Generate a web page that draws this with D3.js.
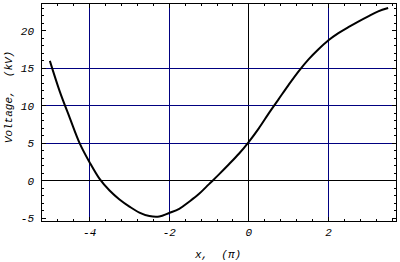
<!DOCTYPE html>
<html>
<head>
<meta charset="utf-8">
<script src="https://cdn.jsdelivr.net/npm/d3@7"></script>
<style>
  html, body { margin: 0; padding: 0; background: #fff; }
  svg { display: block; }
  text { font-family: "Liberation Mono", "DejaVu Sans Mono", monospace; font-style: italic; fill: #000; }
</style>
</head>
<body>
<svg id="chart" width="400" height="262"></svg>
<script>
// ---- data ----
const xValues = [-5.0, -4.75, -4.5, -4.25, -4.0, -3.75, -3.5, -3.25, -3.0, -2.75, -2.5, -2.25, -2.0, -1.75, -1.5, -1.25, -1.0, -0.75, -0.5, -0.25, 0.0, 0.25, 0.5, 0.75, 1.0, 1.25, 1.5, 1.75, 2.0, 2.25, 2.5, 2.75, 3.0, 3.25, 3.5];
const voltage = [16.0, 11.9, 8.4, 5.0, 2.45, 0.25, -1.3, -2.5, -3.45, -4.25, -4.72, -4.78, -4.3, -3.75, -2.8, -1.75, -0.45, 0.85, 2.2, 3.6, 5.2, 7.0, 9.0, 10.9, 12.8, 14.6, 16.2, 17.55, 18.75, 19.7, 20.5, 21.25, 21.95, 22.6, 23.05];
const xMajorTicks = [-4, -2, 0, 2];
const xTickLabels = ["-4", "-2", "0", "2"];
const yMajorTicks = [-5, 0, 5, 10, 15, 20];
const yTickLabels = ["-5", "0", "5", "10", "15", "20"];
const xGrid = [-4, -2, 0, 2];
const xGridColors = ["#000080", "#000080", "#000000", "#000080"];
const yGrid = [0, 5, 10, 15];
const yGridColors = ["#000000", "#000080", "#000080", "#000080"];
const xLabel = "x,  (π)";
const yLabel = "Voltage,  (kV)";

// ---- layout ----
const svg = d3.select("#chart");
const mLeft = 41.5, mRight = 396.5, mTop = 3.5, mBottom = 221.5;
const x = d3.scaleLinear().domain([-5.21, 3.71]).range([mLeft, mRight]);
const y = d3.scaleLinear().domain([-5.44, 23.66]).range([mBottom, mTop]);
const px = v => Math.round(x(v) - 0.5) + 0.5;
const py = v => Math.round(y(v) - 0.5) + 0.5;

// grid lines
svg.append("g").attr("shape-rendering", "crispEdges")
  .selectAll("line").data(xGrid).join("line")
  .attr("x1", d => px(d)).attr("x2", d => px(d))
  .attr("y1", mTop).attr("y2", mBottom)
  .attr("stroke", (d, i) => xGridColors[i]).attr("stroke-width", 1);
svg.append("g").attr("shape-rendering", "crispEdges")
  .selectAll("line").data(yGrid).join("line")
  .attr("y1", d => py(d)).attr("y2", d => py(d))
  .attr("x1", mLeft).attr("x2", mRight)
  .attr("stroke", (d, i) => yGridColors[i]).attr("stroke-width", 1);

// minor tick positions
const xMinor = d3.range(-5.2, 3.71, 0.4).map(v => Math.round(v * 10) / 10).filter(v => !xMajorTicks.some(m => Math.abs(m - v) < 1e-6));
const yMinor = d3.range(-5, 24, 1).filter(v => !yMajorTicks.includes(v));

const tickG = svg.append("g").attr("stroke", "#000").attr("stroke-width", 1).attr("shape-rendering", "crispEdges");
const majLen = 4.5, minLen = 2.5;
function xTicks(vals, len) {
  tickG.append("g").selectAll("line").data(vals).join("line")
    .attr("x1", d => px(d)).attr("x2", d => px(d)).attr("y1", mBottom).attr("y2", mBottom - len);
  tickG.append("g").selectAll("line").data(vals).join("line")
    .attr("x1", d => px(d)).attr("x2", d => px(d)).attr("y1", mTop).attr("y2", mTop + len);
}
function yTicks(vals, len) {
  tickG.append("g").selectAll("line").data(vals).join("line")
    .attr("y1", d => py(d)).attr("y2", d => py(d)).attr("x1", mLeft).attr("x2", mLeft + len);
  tickG.append("g").selectAll("line").data(vals).join("line")
    .attr("y1", d => py(d)).attr("y2", d => py(d)).attr("x1", mRight).attr("x2", mRight - len);
}
xTicks(xMajorTicks, majLen); xTicks(xMinor, minLen);
yTicks(yMajorTicks, majLen); yTicks(yMinor, minLen);

// frame
svg.append("rect").attr("x", mLeft).attr("y", mTop).attr("width", mRight - mLeft).attr("height", mBottom - mTop)
  .attr("fill", "none").attr("stroke", "#000").attr("stroke-width", 1).attr("shape-rendering", "crispEdges");

// curve
const pts = xValues.map((v, i) => [v, voltage[i]]);
svg.append("path").datum(pts)
  .attr("d", d3.line().x(d => x(d[0])).y(d => y(d[1])).curve(d3.curveCatmullRom.alpha(0.5)))
  .attr("fill", "none").attr("stroke", "#000").attr("stroke-width", 2);

// tick labels
svg.append("g").selectAll("text").data(xMajorTicks).join("text")
  .attr("x", d => x(d)).attr("y", 236)
  .attr("text-anchor", "middle").attr("font-size", 11)
  .text((d, i) => xTickLabels[i]);
svg.append("g").selectAll("text").data(yMajorTicks).join("text")
  .attr("x", 34).attr("y", d => y(d) + 4)
  .attr("text-anchor", "end").attr("font-size", 11)
  .text((d, i) => yTickLabels[i]);

// axis labels
svg.append("text").attr("x", 218).attr("y", 258).attr("text-anchor", "middle").attr("font-size", 11)
  .style("white-space", "pre").text(xLabel);
svg.append("text").attr("transform", "translate(12,97) rotate(-90)").attr("text-anchor", "middle").attr("font-size", 11)
  .style("white-space", "pre").text(yLabel);
</script>
</body>
</html>
